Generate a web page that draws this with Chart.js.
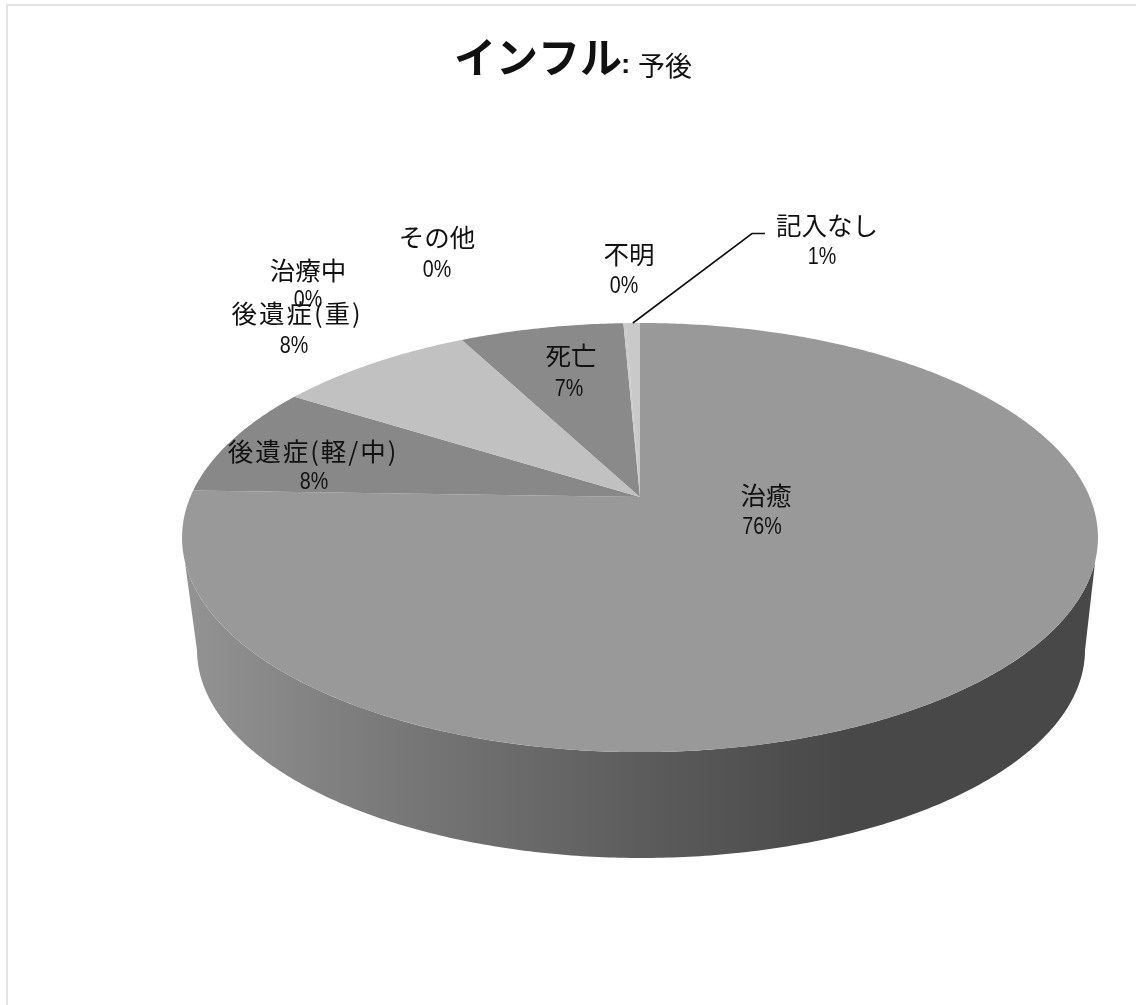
<!DOCTYPE html>
<html lang="ja">
<head>
<meta charset="utf-8">
<title>インフル:予後</title>
<script src="https://cdn.jsdelivr.net/npm/chart.js@4/dist/chart.umd.min.js"></script>
<style>
    html, body { margin: 0; padding: 0; background: #fff; overflow: hidden; }
    #frame { position: absolute; left: 6px; top: 4px; right: 0; bottom: 0; border-top: 2px solid #e4e4e4; border-left: 2px solid #e4e4e4; }
    #pieChart { position: absolute; left: 0; top: 0; filter: blur(0.5px); }
</style>
</head>
<body>
<div id="frame"></div>
<canvas id="pieChart" width="1136" height="1005"></canvas>
<script>
// Clockwise from 12 o'clock
const categories = ['治癒', '後遺症(軽/中)', '後遺症(重)', '治療中', 'その他', '死亡', '不明', '記入なし'];
const shares = [75.5, 8.45, 8.4, 0, 0, 6.95, 0.1, 0.6];
const sliceColors = ['#999999', '#888888', '#c1c1c1', '#9a9a9a', '#b0b0b0', '#8a8a8a', '#c9c9c9', '#c9c9c9'];

// Where each data label sits: name centre, percent centre
const labelSpots = [
    [766, 495, 762, 527],
    [313, 451, 314, 482],
    [297, 313, 294, 346],
    [308, 270, 308, 300],
    [437, 237, 437, 270],
    [571, 355, 569, 389],
    [629, 254, 624, 286],
    [827, 225, 822, 257]
];

// Perspective of the tilted disc: top face and the smaller bottom rim
const tilt = 0.189;
const topFace = { x: 640, y: 497, a: 449.7, b: 206.9 };
const bottomFace = { x: 641, y: 610.5, a: 436, b: 200.7 };

function project(face, angle) {
    const w = 1 - tilt * Math.sin(angle);
    return [face.x + face.a * Math.cos(angle) / w, face.y + face.b * Math.sin(angle) / w];
}

function traceRim(ctx, face, from, to) {
    const steps = Math.max(2, Math.ceil(Math.abs(to - from) / 0.01));
    for (let i = 0; i <= steps; i++) {
        const p = project(face, from + (to - from) * i / steps);
        ctx.lineTo(p[0], p[1]);
    }
}

function drawWall(ctx) {
    const deg = Math.PI / 180;
    const shade = ctx.createLinearGradient(186, 0, 1100, 0);
    shade.addColorStop(0, '#939393');
    shade.addColorStop(0.16, '#808080');
    shade.addColorStop(0.31, '#707070');
    shade.addColorStop(0.5, '#5c5c5c');
    shade.addColorStop(0.72, '#484848');
    shade.addColorStop(1, '#484848');
    ctx.beginPath();
    traceRim(ctx, topFace, 17 * deg, 163 * deg);
    traceRim(ctx, bottomFace, 169 * deg, 11 * deg);
    ctx.closePath();
    ctx.fillStyle = shade;
    ctx.fill();
}

const pie3d = {
    id: 'pie3d',
    // the library's arcs give the angles, the disc is drawn in perspective
    beforeDatasetsDraw(chart) {
        const ctx = chart.ctx;
        ctx.save();
        drawWall(ctx);
        chart.getDatasetMeta(0).data.forEach((arc, i) => {
            if (arc.endAngle - arc.startAngle <= 0) return;
            ctx.beginPath();
            ctx.moveTo(topFace.x, topFace.y);
            traceRim(ctx, topFace, arc.startAngle, arc.endAngle);
            ctx.closePath();
            ctx.fillStyle = sliceColors[i];
            ctx.fill();
        });
        ctx.restore();
        return false;
    },
    afterDraw(chart) {
        const ctx = chart.ctx;
        const total = shares.reduce((a, b) => a + b, 0);
        ctx.save();

        // leader line for 記入なし
        const last = chart.getDatasetMeta(0).data[7];
        const start = project(topFace, (last.startAngle + last.endAngle) / 2);
        ctx.beginPath();
        ctx.moveTo(start[0], start[1]);
        ctx.lineTo(752, 233.5);
        ctx.lineTo(765, 233.5);
        ctx.strokeStyle = '#111';
        ctx.lineWidth = 1.6;
        ctx.stroke();

        ctx.fillStyle = '#111';
        ctx.textAlign = 'center';
        ctx.textBaseline = 'middle';
        categories.forEach((name, i) => {
            const spot = labelSpots[i];
            ctx.font = '25.5px "Noto Sans CJK JP"';
            ctx.letterSpacing = name.includes('(') ? '2px' : '0px';
            ctx.fillText(name, spot[0], spot[1]);
            ctx.letterSpacing = '0px';
            // digits in the picture are tall and narrow
            ctx.font = '24px "Liberation Sans"';
            const pct = Math.round(shares[i] / total * 100) + '%';
            ctx.fillText(pct, spot[2], spot[3], ctx.measureText(pct).width * 0.82);
        });

        // title, two sizes on one baseline
        ctx.textAlign = 'left';
        ctx.textBaseline = 'alphabetic';
        ctx.font = 'bold 42px "Noto Sans CJK JP"';
        ctx.fillText('インフル', 454, 73);
        ctx.font = 'bold 28px "Liberation Sans"';
        ctx.fillText(':', 621, 73);
        ctx.font = '27px "Noto Sans CJK JP"';
        ctx.fillText('予後', 638, 76);
        ctx.restore();
    }
};

new Chart(document.getElementById('pieChart'), {
    type: 'pie',
    data: {
        labels: categories,
        datasets: [{ data: shares, backgroundColor: sliceColors, borderWidth: 0 }]
    },
    options: {
        responsive: false,
        animation: false,
        plugins: {
            legend: { display: false },
            tooltip: { enabled: false }
        }
    },
    plugins: [pie3d]
});
</script>
</body>
</html>
